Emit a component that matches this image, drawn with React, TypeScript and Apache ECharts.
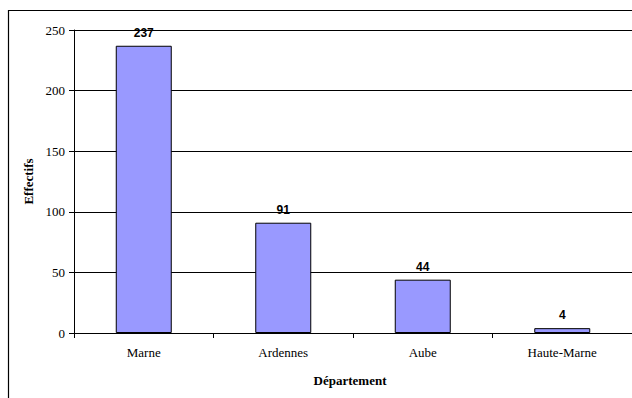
import React, { useEffect, useRef } from "react";
import * as echarts from "echarts";

const categories = ["Marne", "Ardennes", "Aube", "Haute-Marne"];
const values = [237, 91, 44, 4];
const yTicks = [0, 50, 100, 150, 200, 250];

const SERIF = "Liberation Serif";
const SANS = "Liberation Sans";

export default function App() {
  const ref = useRef<HTMLDivElement>(null);
  useEffect(() => {
    if (!ref.current) return;
    const chart = echarts.init(ref.current, null, { renderer: "svg" });
    chart.setOption({
      animation: false,
      backgroundColor: "#ffffff",
      graphic: [
        {
          type: "rect",
          shape: { x: 8.5, y: 10.5, width: 700, height: 500 },
          style: { fill: "none", stroke: "#000", lineWidth: 1.2 },
          silent: true,
        },
        {
          type: "text",
          x: 350,
          y: 380,
          style: {
            text: "Département",
            fontFamily: SERIF,
            fontWeight: "bold",
            fontSize: 13,
            fill: "#000",
            align: "center",
            verticalAlign: "middle",
          },
        },
      ],
      grid: { left: 74, top: 30, width: 564, height: 303 },
      xAxis: {
        type: "category",
        data: categories,
        axisLine: { show: true, lineStyle: { color: "#000", width: 1 } },
        axisTick: { show: true, alignWithLabel: false, length: 5, lineStyle: { color: "#000" } },
        axisLabel: {
          color: "#000",
          fontFamily: SERIF,
          fontSize: 13,
          margin: 13,
        },
      },
      yAxis: {
        type: "value",
        min: yTicks[0],
        max: yTicks[yTicks.length - 1],
        interval: 50,
        name: "Effectifs",
        nameLocation: "middle",
        nameGap: 38,
        nameTextStyle: {
          color: "#000",
          fontFamily: SERIF,
          fontWeight: "bold",
          fontSize: 13,
        },
        axisLine: { show: true, lineStyle: { color: "#000", width: 1 } },
        axisTick: { show: true, length: 5, lineStyle: { color: "#000" } },
        axisLabel: {
          color: "#000",
          fontFamily: SERIF,
          fontSize: 13,
          margin: 9,
        },
        splitLine: { show: true, lineStyle: { color: "#000", width: 1 } },
      },
      series: [
        {
          type: "bar",
          data: values,
          barWidth: 56,
          itemStyle: { color: "#9999FF", borderColor: "#000", borderWidth: 1 },
          label: {
            show: true,
            position: "top",
            distance: 7,
            color: "#000",
            fontFamily: SANS,
            fontWeight: "bold",
            fontSize: 12,
          },
        },
      ],
    });
    return () => chart.dispose();
  }, []);
  return (
    <div
      ref={ref}
      style={{ position: "absolute", left: 0, top: 0, width: 632, height: 398 }}
    />
  );
}
